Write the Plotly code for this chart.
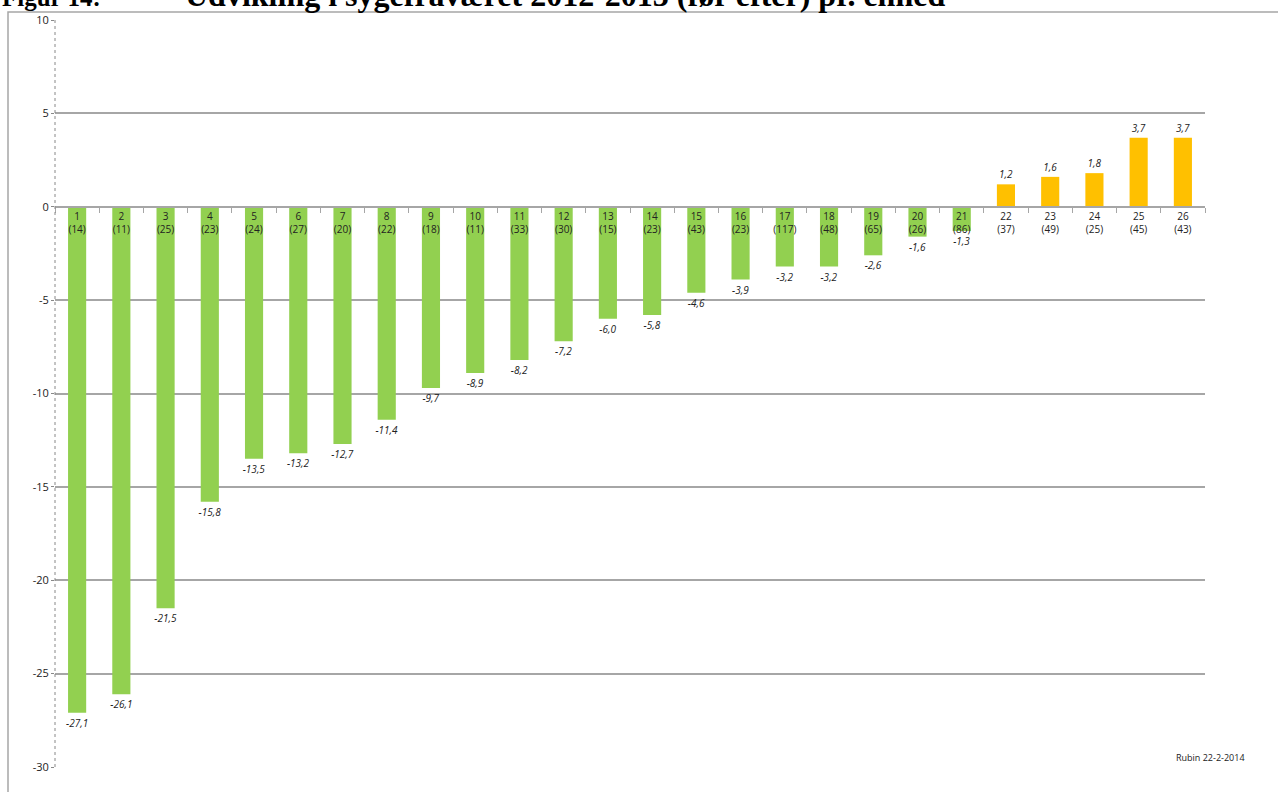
import plotly.graph_objects as go

# units: number, (employees), change in sick leave 2012-2013
units = list(range(1, 27))
staff = [14, 11, 25, 23, 24, 27, 20, 22, 18, 11, 33, 30, 15, 23, 43, 23, 117, 48, 65, 26, 86, 37, 49, 25, 45, 43]
change = [-27.1, -26.1, -21.5, -15.8, -13.5, -13.2, -12.7, -11.4, -9.7, -8.9, -8.2, -7.2, -6.0,
          -5.8, -4.6, -3.9, -3.2, -3.2, -2.6, -1.6, -1.3, 1.2, 1.6, 1.8, 3.7, 3.7]
y_ticks = [10, 5, 0, -5, -10, -15, -20, -25, -30]

W, H = 1278, 792
L, R, T, B = 55, 73, 18, 25
PW, PH = W - L - R, H - T - B


def px_x(p):
    return (p - L) / PW


def px_y(p):
    return (H - B - p) / PH


cats = [f"{u}<br>({s})" for u, s in zip(units, staff)]
colors = ["#92D050" if v < 0 else "#FFC000" for v in change]
labels = ["<i>" + f"{v:.1f}".replace(".", ",") + "</i>" for v in change]

fig = go.Figure(go.Bar(
    x=cats, y=change, marker_color=colors, marker_line_width=0,
    text=labels, textposition="outside", cliponaxis=False, constraintext="none",
    textfont=dict(size=10, color="#222222", family="Open Sans, Liberation Sans"),
))

fig.update_layout(
    width=W, height=H,
    margin=dict(l=L, r=R, t=T, b=B),
    paper_bgcolor="white", plot_bgcolor="white",
    bargap=0.59, showlegend=False,
    font=dict(family="Open Sans, Liberation Sans", color="#222222"),
)

fig.update_yaxes(
    range=[-30, 10], tickvals=y_ticks, ticktext=[str(t) for t in y_ticks],
    showgrid=True, gridcolor="#a6a6a6", gridwidth=1.5, zeroline=False,
    ticks="outside", ticklen=3, tickcolor="#888888", tickfont=dict(size=11, color="#222222"),
    showline=False,
)

fig.update_xaxes(
    anchor="free", position=0.75, showline=True, linecolor="#a6a6a6", linewidth=1.5,
    ticks="outside", ticklen=5, tickcolor="#a6a6a6", tickson="boundaries",
    tickfont=dict(size=10, color="#222222"), tickangle=0, showgrid=False,
)

# dotted y axis line
fig.add_shape(type="line", xref="paper", yref="paper", x0=0, x1=0, y0=0, y1=1,
              line=dict(color="#888888", width=1, dash="dot"))

# outer frame
fig.add_shape(type="rect", xref="paper", yref="paper",
              x0=px_x(8), x1=px_x(W + 20), y0=px_y(H + 20), y1=px_y(10),
              line=dict(color="#a6a6a6", width=1.5))

# title (cut off at top of page, as in the original)
fig.add_annotation(text="<b>Figur 14:</b>", xref="paper", yref="paper",
                   x=px_x(0), y=px_y(-5), xanchor="left", yanchor="middle", showarrow=False,
                   font=dict(family="Liberation Serif", size=25, color="black"))
fig.add_annotation(text="<b>Udvikling i sygefraværet 2012-2013 (før efter) pr. enhed</b>",
                   xref="paper", yref="paper",
                   x=px_x(183), y=px_y(-7), xanchor="left", yanchor="middle", showarrow=False,
                   font=dict(family="Liberation Serif", size=32, color="black"))

fig.add_annotation(text="Rubin 22-2-2014", xref="paper", yref="paper",
                   x=px_x(1210), y=px_y(757), xanchor="center", yanchor="middle", showarrow=False,
                   font=dict(size=9, color="#222222"))

fig.write_html("out.html", config={"displayModeBar": False},
               post_script="document.body.style.margin='0';")
